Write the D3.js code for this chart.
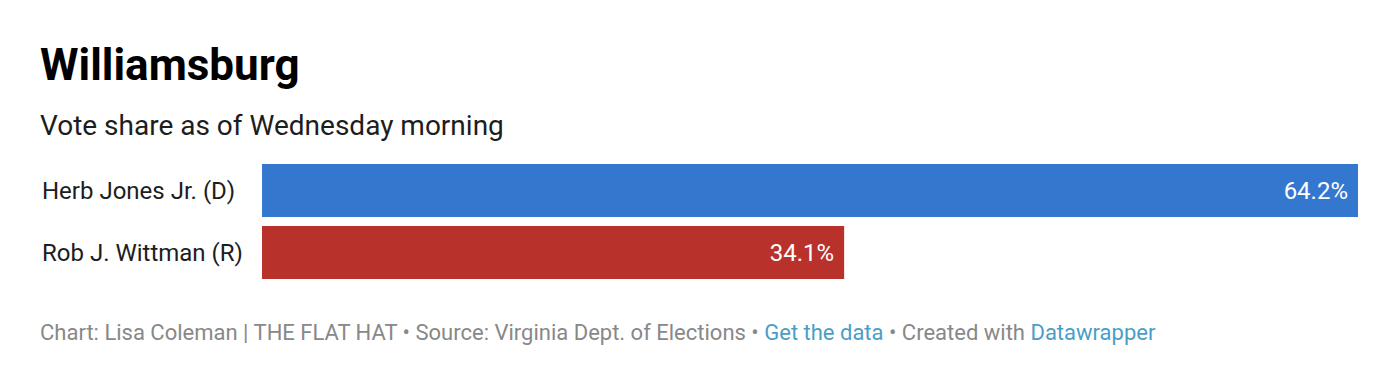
<!DOCTYPE html>
<html><head><meta charset="utf-8">
<script src="https://cdn.jsdelivr.net/npm/d3@7"></script>
<style>
html,body{margin:0;padding:0;background:#fff;}
svg{display:block;font-family:Roboto,sans-serif;}
</style></head>
<body><svg id="c" width="1384" height="383"></svg>
<script>
const categories = ["Herb Jones Jr. (D)", "Rob J. Wittman (R)"];
const values = [64.2, 34.1];
const colors = ["#3477cf", "#b8322b"];
const title = "Williamsburg";
const subtitle = "Vote share as of Wednesday morning";

const svg = d3.select("#c");
const x = d3.scaleLinear().domain([0, d3.max(values)]).range([262, 1358]);
const y = d3.scaleBand().domain(categories).range([164, 279]).paddingInner(0.145).paddingOuter(0);

svg.append("text").attr("x", 40).attr("y", 80).attr("font-size", 44).attr("font-weight", 700).attr("fill", "#000").text(title);
svg.append("text").attr("x", 40).attr("y", 135).attr("font-size", 28).attr("fill", "#1d1d1d").text(subtitle);

const g = svg.append("g");
categories.forEach((c, i) => {
  g.append("rect").attr("x", x(0)).attr("y", y(c)).attr("width", x(values[i]) - x(0)).attr("height", y.bandwidth()).attr("fill", colors[i]);
  g.append("text").attr("x", 42).attr("y", y(c) + y.bandwidth()/2).attr("dy", "0.35em").attr("font-size", 24).attr("fill", "#1d1d1d").text(c);
  g.append("text").attr("x", x(values[i]) - 10).attr("y", y(c) + y.bandwidth()/2).attr("dy", "0.35em").attr("text-anchor", "end").attr("font-size", 24).attr("fill", "#fff").text(values[i].toFixed(1) + "%");
});

const foot = svg.append("text").attr("x", 40).attr("y", 340).attr("font-size", 22).attr("fill", "#888");
foot.append("tspan").text("Chart: Lisa Coleman | THE FLAT HAT • Source: Virginia Dept. of Elections • ");
foot.append("tspan").attr("fill", "#4a9ec6").text("Get the data");
foot.append("tspan").text(" • Created with ");
foot.append("tspan").attr("fill", "#4a9ec6").text("Datawrapper");
</script></body></html>
